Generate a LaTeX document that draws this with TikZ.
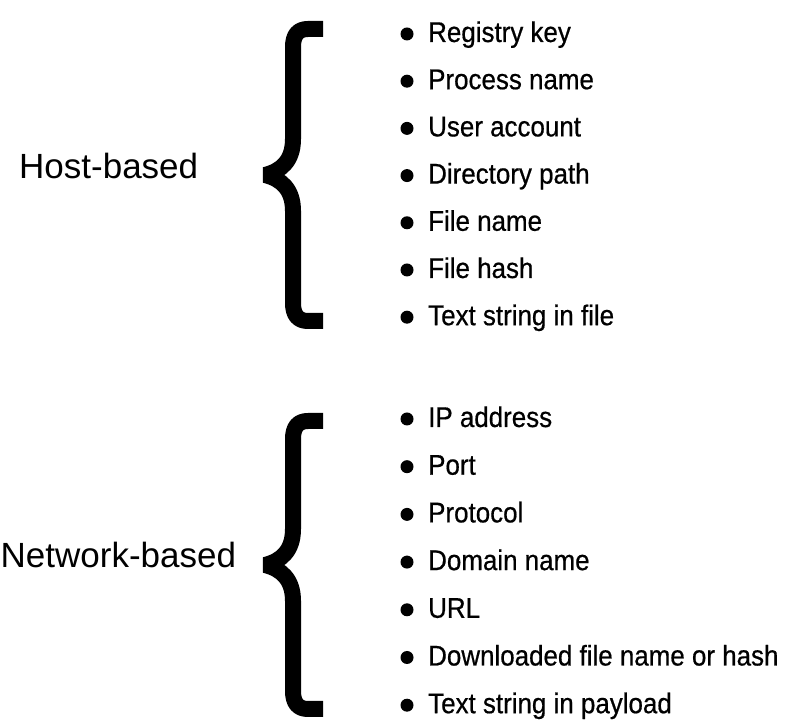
\documentclass[tikz,border=0pt]{standalone}
\usepackage{fontspec}
\setmainfont{Liberation Sans}
\newfontfamily\listfont[FakeStretch=0.91,FakeBold=0.6]{Liberation Sans}
\usetikzlibrary{positioning}

\begin{document}
\begin{tikzpicture}[x=1pt,y=1pt,
  item/.style={anchor=base west,inner sep=0pt,font=\listfont\fontsize{28.5}{30}\selectfont},
  dot/.style={circle,fill=black,inner sep=0pt,minimum size=13pt},
  group/.style={anchor=base west,inner sep=0pt,font=\fontsize{35}{38}\selectfont},
  brace/.style={line width=16pt,line join=bevel}]
  \useasboundingbox (0,0) rectangle (800,725);

  % host-based group
  \node[group] (hostlabel) at (19,546) {Host-based};
  \coordinate (tiphost) at (265,550);
  \draw[brace,shift={(tiphost)}] (58,146) -- (43,146) .. controls (33,146) and (28,140) .. (28,128)
    -- (28,36) .. controls (28,14) and (16,4) .. (0,0) .. controls (16,-4) and (28,-14) .. (28,-36)
    -- (28,-128) .. controls (28,-140) and (33,-146) .. (43,-146) -- (58,-146);
  \foreach \txt [count=\i from 0] in {Registry key,Process name,User account,Directory path,File name,File hash,Text string in file}{
    \node[item] (h\i) at (428,683-47.2*\i) {\txt};
    \node[dot] (hd\i) at (407,691-47.2*\i) {};
  }

  % network-based group
  \node[group] (netlabel) at (0.5,157) {Network-based};
  \coordinate (tipnet) at (265,160);
  \draw[brace,shift={(tipnet)}] (58,144) -- (43,144) .. controls (33,144) and (28,138) .. (28,126)
    -- (28,36) .. controls (28,14) and (16,4) .. (0,0) .. controls (16,-4) and (28,-14) .. (28,-36)
    -- (28,-126) .. controls (28,-138) and (33,-144) .. (43,-144) -- (58,-144);
  \foreach \txt [count=\i from 0] in {IP address,Port,Protocol,Domain name,URL,Downloaded file name or hash,Text string in payload}{
    \node[item] (n\i) at (428,298-47.7*\i) {\txt};
    \node[dot] (nd\i) at (407,306-47.7*\i) {};
  }
\end{tikzpicture}
\end{document}
